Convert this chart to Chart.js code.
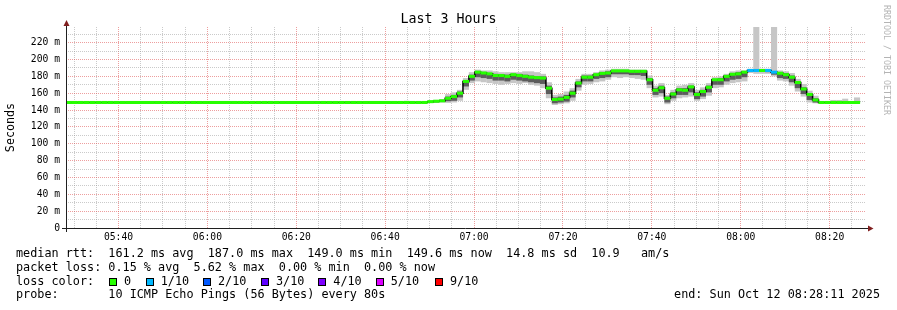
<!DOCTYPE html>
<html>
<head>
<meta charset="utf-8">
<script src="https://cdn.jsdelivr.net/npm/chart.js@4.4.1/dist/chart.umd.min.js"></script>
<style>
html,body{margin:0;padding:0;background:#fff;}
#wrap{position:relative;width:897px;height:310px;overflow:hidden;background:#fff;font-family:'DejaVu Sans Mono',monospace;}
#c{position:absolute;left:0;top:0;}
#title{position:absolute;left:0;top:11px;width:897px;text-align:center;font-size:13.3px;line-height:16px;color:#000;white-space:pre;}
.t{position:absolute;white-space:pre;font-size:11.8px;line-height:13.8px;color:#000;}
.sq{position:absolute;width:6px;height:6px;border:1px solid #000;}
#wm{position:absolute;left:882px;top:5px;writing-mode:vertical-rl;font-size:8.3px;line-height:10px;color:#b4b4b4;white-space:pre;}
</style>
</head>
<body>
<div id="wrap">
<canvas id="c" width="897" height="310"></canvas>
<div id="title">Last 3 Hours</div>
<div id="legend"></div>
<div id="wm">RRDTOOL / TOBI OETIKER</div>
</div>
<script>
// ---------------- data ----------------
const STEP_SECONDS = 80;            // one RRD step
const FIRST_STEP_START = 19610;     // seconds after midnight of first step
const VIEW_START = 19691;           // 05:28:11
const VIEW_END = 30491;             // 08:28:11
const SMOKE_FIRST_STEP = 58;        // smoke arrays start at this step

const xTickLabels = ['05:40','06:00','06:20','06:40','07:00','07:20','07:40','08:00','08:20'];
const yTickLabels = ['0','20 m','40 m','60 m','80 m','100 m','120 m','140 m','160 m','180 m','200 m','220 m'];

// median rtt per step (ms)
const medianRtt = [
149,149,149,149,149,149,149,149,149,149,
149,149,149,149,149,149,149,149,149,149,
149,149,149,149,149,149,149,149,149,149,
149,149,149,149,149,149,149,149,149,149,
149,149,149,149,149,149,149,149,149,149,
149,149,149,149,149,149,149,149,149,149,
149,149,
150,150.5,151,154,156,160,174,180,185,184,
183,181,181,180,182,181,180,179,178.5,178,
166,152.5,153,155,160,172,179,179,182,183.5,
184,186.5,186.5,186.5,186,186,186,176,163.5,166.5,
154,159,164,163.5,167.5,158.5,162,167,176,176,
180,182.5,183,185,187,187,187,187,185,183.7,
182,179,172.7,165,158.5,152,149,149,149,149,
149,149,149
];

// lost pings out of 10 per step
const lossTenths = [
0,0,0,0,0,0,0,0,0,0, 0,0,0,0,0,0,0,0,0,0,
0,0,0,0,0,0,0,0,0,0, 0,0,0,0,0,0,0,0,0,0,
0,0,0,0,0,0,0,0,0,0, 0,0,0,0,0,0,0,0,0,0,
0,0,
0,0,0,0,0,0,0,0,0,0, 0,0,0,0,0,0,0,0,0,0,
0,0,0,0,0,0,0,0,0,0, 0,0,0,0,0,0,0,0,0,0,
0,0,0,0,0,0,0,0,0,0, 0,0,0,0,1,1,0,1,1,0,
0,0,0,0,0,0,0,0,0,0, 0,0,0
];

// smoke: full ping range (ms), from SMOKE_FIRST_STEP on
const smokeLow = [
149,149,149,149,
148.5,149,149,148.5,149,151,164,172,174,173,
172,171,170,171,172,171,172,170,169,166,
154,146,147,148,151,163,170,171,173,174,
176,179,178,179,178,177,176,166,155,156,
147,151,154,155,156,151,153,157,166,167,
170,172,173,174,184,183,183,183,180,175,
174,169,162,156,149,148,149,149,149,149,
149,149,149
];
const smokeHigh = [
151,150,149.5,149.5,
151,152,153,159,161,164,178,185,188,187,
187,186,185,185,185,185,186,186,185,183,
173,158,159,162,166,177,183,183,185,187,
188,189,189,189,188,188,188,181,169,172,
158,164,169,170,172,164,167,172,179,180,
183,186,187,187,189,240,189,189,240,187,
186,184,177,171,163,157,149.5,149.5,152,152,
153.5,150,155
];
// smoke: dense middle pings (ms)
const coreLow = [
149,149,149,149,
149,149,149.5,150.5,151,155,168,175,179,178,
177,175,175,174,176,175,174,173,172,171,
159,148,149,150,155,167,174,174,177,178,
179,182.5,182.5,182.5,181.5,181.5,180.5,170,158,160,
149,154,158,158,161,153,156,161,170,170,
174,176,177,179,186,186,186,185,182,178,
177,173,166,159,152,149,149,149,149,149,
149,149,149
];
const coreHigh = [
149,149,149,149,
150.5,151,152,156,158,162,175,182,186,185,
184,183,182,182,183,183,182,181,180,180,
169,155,156,158,163,174,181,181,183,185,
186,187.5,187.5,187.5,187,187,187,178,166,169,
156,161,166,166,169,161,164,169,177,178,
181,184,185,186,187.5,187.5,187.5,187.5,186,185,
184,181,174,167,160,154,149.5,149.5,150,150,
150,149.5,150
];

const lossLegend = [
  {label:'0', color:'#26ff00', tenths:0},
  {label:'1/10', color:'#00b8ff', tenths:1},
  {label:'2/10', color:'#0059ff', tenths:2},
  {label:'3/10', color:'#5e00ff', tenths:3},
  {label:'4/10', color:'#7e00ff', tenths:4},
  {label:'5/10', color:'#dd00ff', tenths:5},
  {label:'9/10', color:'#ff0000', tenths:9}
];

const legendLines = [
  'median rtt:  161.2 ms avg  187.0 ms max  149.0 ms min  149.6 ms now  14.8 ms sd  10.9   am/s',
  'packet loss: 0.15 % avg  5.62 % max  0.00 % min  0.00 % now',
  'loss color:',
  'probe:       10 ICMP Echo Pings (56 Bytes) every 80s'
];
const endText = 'end: Sun Oct 12 08:28:11 2025';

// ---------------- styles ----------------
const FONT = "'DejaVu Sans Mono', monospace";
const MINOR = 'rgba(150,150,150,0.5)';
const MAJOR = 'rgba(222,79,79,0.55)';
const LINE_HALF = 1.8;

function lossColor(t){
  let c = lossLegend[0].color;
  for (const l of lossLegend) if (t >= l.tenths) c = l.color;
  return c;
}
const stepCenter = i => FIRST_STEP_START + i*STEP_SECONDS + STEP_SECONDS/2;
function hhmm(v){
  const m = Math.round(v/60);
  return String(Math.floor(m/60)).padStart(2,'0') + ':' + String(m%60).padStart(2,'0');
}

const medianPts = medianRtt.map((v,i)=>({x:stepCenter(i), y:v}));
const medianBars = medianRtt.map((v,i)=>({x:stepCenter(i), y:[v-LINE_HALF, v+LINE_HALF]}));
const medianColors = lossTenths.map(lossColor);
const outerBars = smokeLow.map((v,j)=>({x:stepCenter(j+SMOKE_FIRST_STEP), y:[v, smokeHigh[j]]}));
const coreBars = coreLow.map((v,j)=>({x:stepCenter(j+SMOKE_FIRST_STEP), y:[v, coreHigh[j]]}));

const barOpts = {grouped:false, categoryPercentage:1, barPercentage:1.03, borderWidth:0, clip:0};

const axisPlugin = {
  id:'rrdAxes',
  afterDraw(chart){
    const {ctx, chartArea:a} = chart;
    const yb = Math.round(a.bottom)+0.5;
    const xl = Math.round(a.left)+0.5;
    ctx.save();
    ctx.setLineDash([]);
    ctx.strokeStyle = '#1f1f1f';
    ctx.lineWidth = 1;
    ctx.beginPath();
    ctx.moveTo(a.left-4, yb); ctx.lineTo(a.right+3, yb);
    ctx.moveTo(xl, a.bottom+4); ctx.lineTo(xl, a.top-2);
    ctx.stroke();
    ctx.fillStyle = '#801f1f';
    ctx.beginPath();
    ctx.moveTo(a.right+2, yb-3); ctx.lineTo(a.right+2, yb+3); ctx.lineTo(a.right+7.5, yb); ctx.closePath(); ctx.fill();
    ctx.beginPath();
    ctx.moveTo(xl-3, a.top-1); ctx.lineTo(xl+3, a.top-1); ctx.lineTo(xl, a.top-7); ctx.closePath(); ctx.fill();
    ctx.restore();
  }
};

new Chart(document.getElementById('c'), {
  type:'bar',
  data:{datasets:[
    Object.assign({type:'bar', data:outerBars, backgroundColor:'#c6c6c6', order:3}, barOpts),
    Object.assign({type:'bar', data:coreBars, backgroundColor:'#5c5c5c', order:2}, barOpts),
    {type:'line', data:medianPts, borderColor:'#000', borderWidth:1.5, stepped:'middle', pointRadius:0, order:1, clip:0},
    Object.assign({type:'bar', data:medianBars, backgroundColor:medianColors, order:0}, barOpts)
  ]},
  options:{
    responsive:false, animation:false, devicePixelRatio:1,
    layout:{padding:{left:0,right:31,top:27,bottom:0}},
    plugins:{ legend:{display:false}, tooltip:{enabled:false}, title:{display:false} },
    scales:{
      x:{type:'linear', min:VIEW_START, max:VIEW_END, offset:false,
        afterBuildTicks(s){ const t=[]; for(let v=Math.ceil(VIEW_START/300)*300; v<=VIEW_END; v+=300) t.push({value:v}); s.ticks=t; },
        afterFit(s){ s.height = 82; },
        ticks:{autoSkip:false, maxRotation:0, minRotation:0, padding:4, color:'#000', font:{family:FONT, size:9.7},
          callback(v){ const l = hhmm(v); return (v % 1200 === 0 && xTickLabels.includes(l)) ? l : ''; }},
        grid:{drawTicks:false, offset:false, lineWidth:1, color(c){ return (c.tick && c.tick.value % 1200 === 0) ? MAJOR : MINOR; }},
        border:{display:false, dash:[1,1]}
      },
      y:{type:'linear', min:0, max:238.6,
        afterBuildTicks(s){ const t=[]; for(let v=0; v<=230; v+=10) t.push({value:v}); s.ticks=t; },
        afterFit(s){ s.width = 66; },
        ticks:{autoSkip:false, padding:6, color:'#000', font:{family:FONT, size:9.7},
          callback(v){ return v % 20 === 0 ? yTickLabels[v/20] : ''; }},
        grid:{drawTicks:false, lineWidth:1, color(c){ return (c.tick && c.tick.value % 20 === 0) ? MAJOR : MINOR; }},
        border:{display:false, dash:[1,1]},
        title:{display:true, text:'Seconds', color:'#000', font:{family:FONT, size:11.7, weight:'normal'}, padding:{top:4,bottom:0}}
      }
    }
  },
  plugins:[axisPlugin]
});

// ---------------- legend text ----------------
const lineTops = [246.9, 260.7, 274.5, 288.3];
const squareLefts = [109, 145.7, 203, 261, 318.3, 375.7, 435];
const legendEl = document.getElementById('legend');
function addText(x, top, s){
  const d = document.createElement('div'); d.className='t'; d.style.left=x+'px'; d.style.top=top+'px'; d.textContent=s; legendEl.appendChild(d); return d;
}
legendLines.forEach((s, li)=> addText(16, lineTops[li], s));
lossLegend.forEach((l,i)=>{
  const sq = document.createElement('div'); sq.className='sq';
  sq.style.left = squareLefts[i]+'px'; sq.style.top = '277.5px'; sq.style.background = l.color;
  legendEl.appendChild(sq);
  addText(squareLefts[i]+15, lineTops[2], l.label);
});
const endEl = addText(0, lineTops[3], endText);
endEl.style.left = 'auto'; endEl.style.right = (897-880)+'px';
</script>
</body>
</html>
